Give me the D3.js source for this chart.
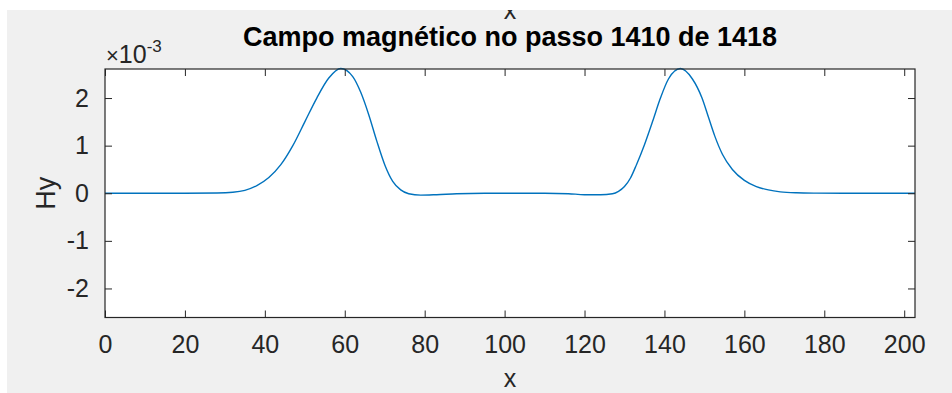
<!DOCTYPE html>
<html>
<head>
<meta charset="utf-8">
<script src="https://cdn.jsdelivr.net/npm/d3@7"></script>
<style>
  body { margin: 0; background: #fff; }
  svg text { font-family: "Liberation Sans", Arial, Helvetica, sans-serif; fill: #262626; }
</style>
</head>
<body>
<div id="chart"></div>
<script>
const width = 952;
const height = 393;

// Data (Hy in units of 1e-3) //////////////////////
const xValues = [0, 10, 20, 28, 32, 35, 38, 41, 44, 47, 50, 53, 56, 59, 62, 64, 66, 68, 70, 72, 74, 76, 79, 83, 88, 95,
  102, 110, 116, 120, 124, 127, 128.5, 130, 131.5, 133, 135, 137, 139, 141, 144, 147, 149.4, 151, 152.6, 154.5, 157, 160, 163, 166, 169, 173, 178, 185, 195, 202.7];
const hyValues = [0, 0, 0, 0.005, 0.02, 0.06, 0.16, 0.33, 0.6, 1.0, 1.5, 2.0, 2.42, 2.62, 2.45, 2.12, 1.65, 1.1, 0.6, 0.25, 0.07, -0.01, -0.04, -0.03, -0.01, 0,
  0, 0, -0.01, -0.03, -0.03, -0.01, 0.04, 0.14, 0.32, 0.6, 1.02, 1.5, 2.0, 2.4, 2.62, 2.4, 2.0, 1.6, 1.2, 0.82, 0.5, 0.27, 0.14, 0.07, 0.03, 0.01, 0.003, 0, 0, 0];
const xTicks = [0, 20, 40, 60, 80, 100, 120, 140, 160, 180, 200];
const yTicks = [-2, -1, 0, 1, 2];
const titleText = "Campo magnético no passo 1410 de 1418";

// Layout ///////////////////////////////////////////
const box = { left: 105, top: 69, right: 915, bottom: 317.5 };

const svg = d3.select("#chart").append("svg")
  .attr("width", width)
  .attr("height", height);

// figure background
svg.append("rect")
  .attr("x", 7).attr("y", 10)
  .attr("width", width - 7).attr("height", height - 10)
  .attr("fill", "#f0f0f0");

const clipFig = svg.append("clipPath").attr("id", "figclip");
clipFig.append("rect").attr("x", 7).attr("y", 10).attr("width", width - 7).attr("height", height - 10);

// axes background
svg.append("rect")
  .attr("x", box.left).attr("y", box.top)
  .attr("width", box.right - box.left).attr("height", box.bottom - box.top)
  .attr("fill", "#ffffff");

const x = d3.scaleLinear().domain([0, 202.7]).range([box.left, box.right]);
const y = d3.scaleLinear().domain([-2.61, 2.61]).range([box.bottom, box.top]);

// curve
const line = d3.line()
  .x((d, i) => x(xValues[i]))
  .y(d => y(d))
  .curve(d3.curveMonotoneX);

svg.append("path")
  .datum(hyValues)
  .attr("d", line)
  .attr("fill", "none")
  .attr("stroke", "#0072bd")
  .attr("stroke-width", 1.4);

// axes (ticks point inward, MATLAB style)
const tickLen = 7;
const axisColor = "#262626";
const plainFormat = d => String(d);

const drawAxis = (gen, tx, ty) => {
  const g = svg.append("g").attr("transform", `translate(${tx},${ty})`).call(gen);
  g.select(".domain").remove();
  g.selectAll("line").attr("stroke", axisColor);
  g.selectAll("text").attr("font-size", 25).attr("fill", axisColor);
  return g;
};

drawAxis(d3.axisBottom(x).tickValues(xTicks).tickSize(-tickLen).tickPadding(18).tickFormat(plainFormat), 0, box.bottom)
  .selectAll("text").attr("dy", "0.71em");
drawAxis(d3.axisTop(x).tickValues(xTicks).tickSize(-tickLen).tickFormat(""), 0, box.top);
drawAxis(d3.axisLeft(y).tickValues(yTicks).tickSize(-tickLen).tickPadding(16).tickFormat(plainFormat), box.left, 0);
drawAxis(d3.axisRight(y).tickValues(yTicks).tickSize(-tickLen).tickFormat(""), box.right, 0);

// box
svg.append("rect")
  .attr("x", box.left).attr("y", box.top)
  .attr("width", box.right - box.left).attr("height", box.bottom - box.top)
  .attr("fill", "none")
  .attr("stroke", axisColor)
  .attr("stroke-width", 1.2);

// exponent label
const expo = svg.append("text")
  .attr("x", box.left + 1)
  .attr("y", 63)
  .attr("font-size", 25);
expo.append("tspan").text("\u00d7").attr("font-size", 22);
expo.append("tspan").text("10");
expo.append("tspan").text("-3").attr("font-size", 17).attr("dy", -11);

// title
svg.append("text")
  .attr("x", (box.left + box.right) / 2)
  .attr("y", 46)
  .attr("text-anchor", "middle")
  .attr("font-size", 27)
  .attr("font-weight", "bold")
  .style("fill", "#000")
  .text(titleText);

// y label
svg.append("text")
  .attr("transform", `translate(55,${y(0)}) rotate(-90)`)
  .attr("text-anchor", "middle")
  .attr("font-size", 27)
  .text("Hy");

// x labels (bottom one, and a stray one at the top cut by the figure edge)
svg.append("text")
  .attr("x", (box.left + box.right) / 2)
  .attr("y", 387)
  .attr("text-anchor", "middle")
  .attr("font-size", 25)
  .text("x");
svg.append("g").attr("clip-path", "url(#figclip)")
  .append("text")
  .attr("x", (box.left + box.right) / 2)
  .attr("y", 19)
  .attr("text-anchor", "middle")
  .attr("font-size", 25)
  .text("x");
</script>
</body>
</html>
